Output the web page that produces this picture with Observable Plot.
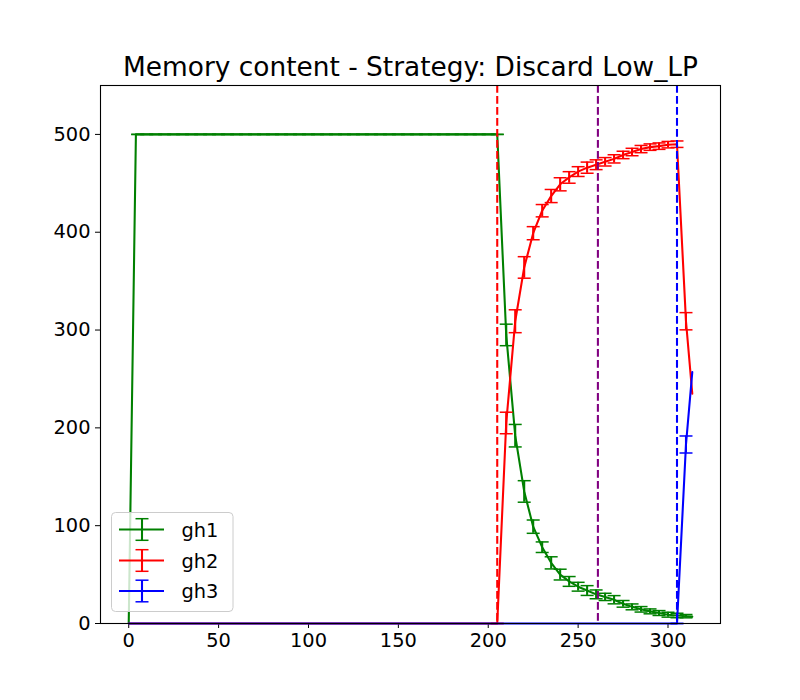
<!DOCTYPE html>
<html><head><meta charset="utf-8">
<script src="https://cdn.jsdelivr.net/npm/d3@7"></script>
<script src="https://cdn.jsdelivr.net/npm/@observablehq/plot@0.6"></script>
<style>
body{margin:0;background:#fff;}
#wrap{position:relative;width:800px;height:700px;font-family:"DejaVu Sans",sans-serif;}
#legend{position:absolute;left:111px;top:512px;}
</style></head><body><div id="wrap"></div>
<script>
// ---- data ----
const titleText = "Memory content - Strategy: Discard Low_LP";
const seriesNames = ["gh1", "gh2", "gh3"];
const seriesColors = ["green", "red", "blue"];
const xTicks = [0, 50, 100, 150, 200, 250, 300];
const yTicks = [0, 100, 200, 300, 400, 500];

// steps where the transfer happens (error bars every 5 steps)
const stepsX = [205,210,215,220,225,230,235,240,245,250,255,260,265,270,275,280,285,290,295,300,305,310];
const gh1Mean = [500,295,192,135,99,78,62,50,43,37.6,33.7,29.8,27.2,24.3,20.1,17,14.5,12.4,10.7,9,8.2,7.5];
const gh1Err  = [0,11,11.5,11,6.8,5.4,6.2,5.5,5,4.5,5,4.5,3.7,4.2,3.4,3,2.8,2.5,2.5,2.5,2.3,1.7];
const gh2Mean = [0,205,309,364,399,422,437,449,456,462,466,469,472,475,479,482,485,487,488,489.5,490,309];
const gh2Err  = [0,11,11.7,11,6.7,6.3,6.7,6.7,5.9,5,5.7,5,4.3,4.2,3.8,3.8,3.7,3.3,3.3,3.3,3.3,8.8];
const gh3X    = [305,310];
const gh3Mean = [0,183];
const gh3Err  = [0,8.7];

// plateau phase of gh1 (memory full with gh1)
const plateauX = [5,10,15,20,25,30,35,40,45,50,55,60,65,70,75,80,85,90,95,100,105,110,115,120,125,130,135,140,145,150,155,160,165,170,175,180,185,190,195,200];
const plateauValue = 500;
const fillEndX = 4;          // memory filled with gh1 at start
const lastX = 313.5;         // last recorded step
const lastValues = [7, 235, 257];

const vlineX = [205, 261, 305];
const vlineColors = ["red", "purple", "blue"];

// ---- build tables ----
const lines = [
  [{x:0,y:0},{x:fillEndX,y:plateauValue},...stepsX.map((x,i)=>({x,y:gh1Mean[i]})),{x:lastX,y:lastValues[0]}],
  [{x:0,y:0},...stepsX.map((x,i)=>({x,y:gh2Mean[i]})),{x:lastX,y:lastValues[1]}],
  [{x:0,y:0},...gh3X.map((x,i)=>({x,y:gh3Mean[i]})),{x:lastX,y:lastValues[2]}]
];
const errs = [
  [...plateauX.map(x=>({x,m:plateauValue,e:0})), ...stepsX.map((x,i)=>({x,m:gh1Mean[i],e:gh1Err[i]}))],
  stepsX.map((x,i)=>({x,m:gh2Mean[i],e:gh2Err[i]})),
  gh3X.map((x,i)=>({x,m:gh3Mean[i],e:gh3Err[i]}))
];

const cap = {draw(ctx, size){const r=Math.sqrt(size/Math.PI); ctx.moveTo(-r,0); ctx.lineTo(r,0);}};
const LW = 2.08;

const marks = [];
for (let s = 0; s < 3; s++) {
  const c = seriesColors[s];
  marks.push(Plot.line(lines[s], {x:"x", y:"y", stroke:c, strokeWidth:LW}));
  const eb = errs[s].filter(d=>d.e>0);
  marks.push(Plot.ruleX(eb, {x:"x", y1:d=>d.m-d.e, y2:d=>d.m+d.e, stroke:c, strokeWidth:LW}));
  marks.push(Plot.dot(errs[s], {x:"x", y:d=>d.m-d.e, r:6.5, symbol:cap, stroke:c, strokeWidth:1.5, fill:"none"}));
  marks.push(Plot.dot(errs[s], {x:"x", y:d=>d.m+d.e, r:6.5, symbol:cap, stroke:c, strokeWidth:1.5, fill:"none"}));
}
marks.push(Plot.ruleX(vlineX.map((x,i)=>({x,c:vlineColors[i]})), {x:"x", stroke:"c", strokeWidth:LW, strokeDasharray:"7.7,3.3"}));
marks.push(Plot.frame({stroke:"black", strokeWidth:1.1}));
marks.push(Plot.text([titleText], {frameAnchor:"top", lineAnchor:"bottom", dy:-10, fontSize:26.4, fill:"black", text:d=>d}));

const chart = Plot.plot({
  width:800, height:700,
  marginLeft:100, marginRight:80, marginTop:85, marginBottom:77,
  x:{domain:[-15.7,329.2], ticks:xTicks, tickSize:5, tickPadding:5, label:null, tickFormat:d=>String(d)},
  y:{domain:[0,550], ticks:yTicks, tickSize:5, tickPadding:5, label:null, tickFormat:d=>String(d)},
  color:{type:"identity"},
  style:{fontFamily:"DejaVu Sans", fontSize:"19.4px", background:"white", color:"black", overflow:"visible"},
  marks
});
const wrap = document.getElementById("wrap");
wrap.appendChild(chart);

// ---- legend ----
const ns = "http://www.w3.org/2000/svg";
const lg = document.createElementNS(ns, "svg");
lg.setAttribute("width", 123); lg.setAttribute("height", 101);
lg.id = "legend";
let html = `<rect x="0.5" y="0.5" width="121.5" height="99" rx="4" ry="4" fill="white" fill-opacity="0.8" stroke="#cccccc" stroke-width="1"/>`;
const rowY = [17.5, 48.5, 79];
seriesNames.forEach((n,i)=>{
  const y = rowY[i], c = seriesColors[i];
  html += `<line x1="8" x2="53" y1="${y}" y2="${y}" stroke="${c}" stroke-width="${LW}"/>`;
  html += `<line x1="31" x2="31" y1="${y-10.8}" y2="${y+10.8}" stroke="${c}" stroke-width="${LW}"/>`;
  html += `<line x1="24.5" x2="37.5" y1="${y-10.8}" y2="${y-10.8}" stroke="${c}" stroke-width="1.5"/>`;
  html += `<line x1="24.5" x2="37.5" y1="${y+10.8}" y2="${y+10.8}" stroke="${c}" stroke-width="1.5"/>`;
  html += `<text x="70.5" y="${y+7}" font-family="DejaVu Sans" font-size="19.4" fill="black">${n}</text>`;
});
lg.innerHTML = html;
wrap.appendChild(lg);
</script>
</body></html>
